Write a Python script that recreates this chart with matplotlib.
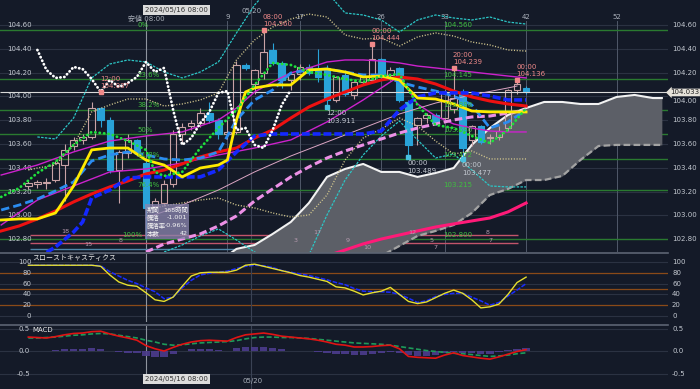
import matplotlib
matplotlib.use("Agg")
import matplotlib.pyplot as plt
from matplotlib.patches import Rectangle
from matplotlib.lines import Line2D

plt.rcParams['font.family'] = ['DejaVu Sans', 'Noto Sans CJK JP']

# ---------------- data ----------------
candle_idx = list(range(-13, 43))
opens = [103.25, 103.26, 103.27, 103.30, 103.42, 103.58, 103.63, 103.66, 103.90, 103.80, 103.38, 103.52, 103.63,
         103.44, 103.08, 103.10, 103.26, 103.68, 103.75, 103.78, 103.86, 103.80, 103.68, 103.70, 104.26, 104.10,
         104.20, 104.39, 104.28, 104.14, 104.19, 104.25, 104.24, 104.24, 103.97, 104.18, 104.01, 104.12, 104.14,
         104.31, 104.18, 104.24, 103.95, 103.76, 103.82, 103.84, 103.82, 103.89, 104.04, 103.63, 103.75, 103.65,
         103.66, 103.73, 104.05, 104.07]
highs = [103.29, 103.30, 103.31, 103.46, 103.60, 103.66, 103.68, 103.95, 103.91, 103.83, 103.55, 103.68, 103.64,
         103.47, 103.15, 103.30, 103.72, 103.78, 103.80, 103.90, 103.95, 103.82, 103.80, 104.30, 104.28, 104.23,
         104.56, 104.45, 104.30, 104.20, 104.27, 104.27, 104.40, 104.26, 104.17, 104.22, 104.13, 104.18, 104.444,
         104.32, 104.25, 104.25, 103.97, 103.83, 103.86, 103.86, 104.05, 104.239, 104.06, 103.76, 103.76, 103.68,
         103.75, 104.06, 104.136, 104.09]
lows = [103.22, 103.23, 103.22, 103.28, 103.12, 103.55, 103.60, 103.64, 103.74, 103.36, 103.10, 103.48, 103.50,
        102.80, 103.03, 103.08, 103.24, 103.62, 103.72, 103.74, 103.78, 103.64, 103.64, 103.68, 104.22, 104.02,
        104.15, 104.26, 104.07, 104.05, 104.14, 104.18, 104.12, 103.911, 103.95, 104.00, 103.98, 104.10, 104.12,
        104.14, 104.14, 103.95, 103.489, 103.59, 103.78, 103.76, 103.80, 103.86, 103.477, 103.58, 103.60, 103.60,
        103.63, 103.71, 104.02, 104.02]
closes = [103.27, 103.28, 103.28, 103.44, 103.55, 103.63, 103.66, 103.90, 103.80, 103.38, 103.53, 103.63, 103.52,
          103.06, 103.12, 103.26, 103.68, 103.74, 103.78, 103.86, 103.80, 103.68, 103.70, 104.26, 104.24, 104.22,
          104.37, 104.28, 104.14, 104.19, 104.25, 104.20, 104.16, 103.97, 104.16, 104.02, 104.12, 104.16, 104.31,
          104.16, 104.22, 103.97, 103.59, 103.82, 103.84, 103.78, 104.04, 103.99, 103.57, 103.75, 103.62, 103.66,
          103.71, 104.05, 104.10, 104.033]

price_ticks = [104.60, 104.40, 104.20, 104.00, 103.80, 103.60, 103.40, 103.20, 103.00, 102.80]
price_labels = ["104.60", "104.40", "104.20", "104.00", "103.80", "103.60", "103.40", "103.20", "103.00", "102.80"]
last_price = 104.033
last_label = "104.033"

fib_levels = [104.560, 104.145, 103.888, 103.680, 103.472, 103.215, 102.800]
fib_pct = ["0%", "23.6%", "38.2%", "50%", "61.8%", "76.4%", "100%"]
fib_price = ["104.560", "104.145", "103.888", "103.680", "103.472", "103.215", "102.800"]

count_marks = [9, 17, 26, 33, 42, 52]
count_labels = ["9", "17", "26", "33", "42", "52"]
cross_idx = 0
date_idx = 11.6

# Bollinger-style bands
bbu_idx = [-12, -10, -8, -6, -4, -2, 0, 2, 4, 6, 8, 10, 12, 14, 16, 18, 20, 22, 24, 26, 28, 30, 32, 34, 36, 38, 40, 42]
bbu = [103.659, 103.642, 103.818, 104.155, 104.272, 104.306, 104.289, 104.205, 104.155, 104.205, 104.289, 104.533,
       104.768, 104.936, 105.020, 105.020, 104.877, 104.701, 104.684, 104.642, 104.541, 104.642, 104.684, 104.659,
       104.642, 104.667, 104.625, 104.608]
bbl_idx = [2, 4, 6, 8, 10, 12, 14, 16, 18, 20, 22, 24, 26, 28, 30, 32, 34, 36, 38, 40, 42]
bbl = [102.692, 102.751, 102.827, 102.886, 102.793, 102.692, 102.625, 102.608, 102.667, 103.003, 103.297, 103.508,
       103.667, 103.793, 103.634, 103.482, 103.516, 103.381, 103.247, 103.239, 103.239]
bb1u_idx = [-13, -12, -10, -8, -6, -4, -2, 0, 2, 4, 6, 8, 10, 12, 14, 16, 18, 20, 22, 24, 26, 28, 30, 32, 34, 36, 38, 40, 42]
bb1u = [103.381, 103.398, 103.423, 103.592, 103.869, 103.928, 103.978, 103.978, 103.919, 103.936, 103.970, 104.029,
        104.306, 104.474, 104.583, 104.650, 104.692, 104.667, 104.516, 104.482, 104.491, 104.423, 104.499, 104.533,
        104.507, 104.457, 104.432, 104.390, 104.381]
bb1l_idx = [0, 2, 4, 6, 8, 10, 12, 14, 16, 18, 20, 22, 24, 26, 28, 30, 32, 34, 36, 38, 40, 42]
bb1l = [103.045, 103.079, 103.104, 103.129, 103.146, 103.087, 103.062, 103.020, 102.986, 103.003, 103.171, 103.465,
        103.650, 103.726, 103.818, 103.751, 103.625, 103.516, 103.541, 103.474, 103.474, 103.474]

# envelopes (magenta) and thin trend line
um_idx = [-16, -12, -8, -4, 0, 4, 8, 10, 12, 14, 16, 18, 20, 22, 24, 26, 28, 30, 32, 34, 36, 38, 40, 42]
um = [103.339, 103.423, 103.533, 103.625, 103.667, 103.701, 103.802, 103.902, 104.037, 104.121, 104.197, 104.239,
      104.289, 104.306, 104.306, 104.297, 104.281, 104.255, 104.239, 104.222, 104.205, 104.188, 104.171, 104.155]
lm_idx = [-16, -12, -8, -4, 0, 4, 8, 12, 16, 20, 24, 26, 28, 30, 32, 34, 36, 38, 40, 42]
lm = [102.919, 103.129, 103.247, 103.365, 103.390, 103.440, 103.508, 103.566, 103.634, 103.785, 103.970, 104.071,
      104.171, 103.936, 103.835, 103.768, 103.734, 103.709, 103.701, 103.701]
tp_idx = [0, 4, 8, 12, 16, 20, 24, 28, 32, 36, 40, 41]
tp = [102.978, 103.087, 103.213, 103.365, 103.499, 103.617, 103.734, 103.852, 103.944, 104.012, 104.071, 104.087]

# moving averages / ichimoku
red_idx = list(range(-16, 43, 2))
red_ma = [102.869, 102.911, 102.970, 103.037, 103.113, 103.180, 103.239, 103.289, 103.348, 103.381, 103.432, 103.491,
          103.533, 103.566, 103.650, 103.718, 103.818, 103.911, 103.978, 104.037, 104.096, 104.138, 104.163, 104.146,
          104.104, 104.045, 103.995, 103.961, 103.936, 103.919]
blue_idx = [-12, -10, -8, -7, -6, -4, -2, 0, 2, 4, 6, 8, 10, 12, 14, 16, 18, 20, 22, 24, 26, 28, 30, 32, 34, 36, 38, 40, 42]
blue_line = [102.642, 102.734, 102.860, 102.944, 103.146, 103.213, 103.314, 103.323, 103.323, 103.323, 103.323,
             103.381, 103.533, 103.667, 103.684, 103.684, 103.684, 103.684, 103.684, 103.684, 103.709, 103.886,
             103.995, 104.029, 104.029, 104.029, 104.003, 103.970, 103.970]
yellow_idx = [-16, -14, -12, -10, -8, -6, -4, -2, 0, 2, 4, 6, 8, 9, 10, 11, 12, 14, 16, 18, 20, 22, 24, 26, 28, 30,
              32, 34, 36, 38, 40, 42]
yellow_line = [102.961, 102.970, 102.970, 103.020, 103.247, 103.550, 103.566, 103.566, 103.465, 103.423, 103.323,
               103.398, 103.423, 103.465, 103.802, 104.037, 104.071, 104.096, 104.096, 104.222, 104.230, 104.205,
               104.163, 104.171, 104.138, 103.986, 103.978, 103.936, 103.877, 103.869, 103.869, 103.869]
lblue_idx = list(range(-16, 43, 2))
lblue_line = [103.045, 103.087, 103.138, 103.205, 103.281, 103.457, 103.508, 103.533, 103.508, 103.474, 103.465,
              103.482, 103.533, 103.802, 103.970, 104.054, 104.197, 104.222, 104.230, 104.205, 104.180, 104.180,
              104.121, 104.079, 104.045, 104.003, 103.928, 103.734, 103.785, 103.886]
green_idx = [-16, -14, -12, -10, -8, -6, -4, -2, 0, 1, 2, 4, 6, 8, 10, 12, 14, 16, 18, 20, 22, 24, 26, 28, 30, 32,
             34, 36, 38, 40, 42]
green_line = [103.155, 103.230, 103.356, 103.449, 103.592, 103.701, 103.684, 103.625, 103.550, 103.365, 103.331,
              103.365, 103.566, 103.734, 103.886, 104.096, 104.281, 104.264, 104.205, 104.180, 104.146, 104.121,
              104.171, 104.188, 103.928, 103.760, 103.734, 103.667, 103.608, 103.718, 103.902]
pinkd_idx = list(range(0, 43, 2))
pinkd_line = [102.692, 102.759, 102.801, 102.844, 102.911, 102.995, 103.121, 103.222, 103.323, 103.407, 103.482,
              103.541, 103.592, 103.642, 103.692, 103.734, 103.768, 103.802, 103.827, 103.835, 103.860, 103.886]
slong_idx = [21, 22, 24, 26, 28, 30, 32, 34, 36, 38, 40, 42]
slong_line = [102.684, 102.709, 102.760, 102.801, 102.835, 102.869, 102.902, 102.928, 102.953, 102.978, 103.029,
              103.104]
chikou_idx = list(range(-12, 17))
chikou = [104.390, 104.222, 104.155, 104.163, 104.247, 104.230, 104.146, 104.037, 104.138, 104.079, 104.113, 104.163,
          104.289, 104.205, 104.239, 103.886, 103.592, 103.650, 103.776, 103.869, 104.029, 104.045, 103.718, 103.734,
          103.592, 103.566, 103.718, 103.928, 104.054]
kumo_idx = list(range(8, 57, 2)) + [57]
senkou_a = [102.608, 102.718, 102.751, 102.844, 102.944, 103.104, 103.323, 103.390, 103.432, 103.365, 103.365,
            103.323, 103.356, 103.398, 103.592, 103.734, 103.844, 103.902, 103.953, 103.953, 103.936, 103.936,
            103.995, 104.012, 103.986, 103.986]
senkou_b = [102.45, 102.45, 102.45, 102.45, 102.45, 102.45, 102.45, 102.45, 102.45, 102.659, 102.743, 102.827,
            102.869, 102.919, 103.020, 103.171, 103.222, 103.297, 103.297, 103.331, 103.465, 103.583, 103.592,
            103.592, 103.592, 103.592]

# horizontal count lines near the bottom
hline_red = [102.835, 102.768]
hline_blue = [102.718]
hline_span = (-12.8, 41.1)
hline_blue_span = (-12.8, 20.3)
small_nums = [("18", -8.9, 102.862), ("15", -6.4, 102.751), ("8", -2.8, 102.790), ("3", 16.5, 102.790),
              ("17", 18.9, 102.855), ("9", 22.3, 102.790), ("10", 24.5, 102.734), ("12", 29.4, 102.855),
              ("5", 31.5, 102.790), ("7", 32.0, 102.734), ("8", 37.7, 102.855), ("7", 38.1, 102.790)]

# high / low annotations: (index, price, time label, value label, is_high)
hl_notes = [(13, 104.560, "08:00", "104.560", True), (25, 104.444, "00:00", "104.444", True),
            (34, 104.239, "20:00", "104.239", True), (41, 104.136, "00:00", "104.136", True),
            (-5, 104.037, "12:00", "104.037", True),
            (20, 103.911, "12:00", "103.911", False), (29, 103.489, "00:00", "103.489", False),
            (35, 103.477, "00:00", "103.477", False)]

# stochastics
osc_idx = list(range(-13, 43))
stoch_k = [94, 94, 94, 94, 94, 94, 94, 94, 92, 76, 63, 57, 55,
           43, 30, 27, 35, 55, 74, 80, 81, 81, 81, 85, 94, 96, 92, 88, 84, 80, 75, 72, 68, 64, 54, 52, 46, 39, 43,
           46, 53, 40, 27, 23, 26, 34, 42, 48, 42, 30, 15, 17, 22, 40, 62, 72]
stoch_d = [94, 94, 94, 94, 94, 94, 94, 94, 93, 82, 74, 66, 60,
           52, 45, 32, 35, 52, 66, 76, 79, 81, 83, 88, 92, 94, 93, 90, 84, 81, 78, 75, 71, 67, 62, 58, 51, 46, 45,
           45, 44, 40, 33, 25, 28, 36, 40, 42, 42, 35, 28, 20, 25, 37, 48, 60]
stoch_ticks = [100, 80, 60, 40, 20, 0]

# MACD
macd = [0.31, 0.30, 0.29, 0.32, 0.36, 0.39, 0.40, 0.43, 0.44, 0.38, 0.33, 0.29, 0.24,
        0.12, 0.05, 0.00, 0.08, 0.15, 0.20, 0.23, 0.24, 0.23, 0.22, 0.30, 0.36, 0.38, 0.40, 0.37, 0.33, 0.31, 0.29,
        0.27, 0.24, 0.20, 0.15, 0.13, 0.09, 0.09, 0.10, 0.12, 0.13, 0.05, -0.12, -0.14, -0.15, -0.16, -0.09, -0.04,
        -0.10, -0.13, -0.16, -0.18, -0.13, -0.07, -0.01, 0.03]
signal = [0.29, 0.29, 0.30, 0.31, 0.33, 0.35, 0.36, 0.38, 0.39, 0.38, 0.35, 0.32, 0.29,
          0.24, 0.20, 0.15, 0.13, 0.14, 0.16, 0.18, 0.19, 0.20, 0.21, 0.23, 0.27, 0.30, 0.31, 0.31, 0.30, 0.30,
          0.29, 0.28, 0.26, 0.24, 0.22, 0.20, 0.18, 0.17, 0.16, 0.15, 0.13, 0.10, 0.07, 0.04, 0.01, -0.01, -0.03,
          -0.05, -0.06, -0.08, -0.10, -0.12, -0.11, -0.09, -0.06, -0.04]
hist = [0.01, 0.01, 0.00, 0.02, 0.04, 0.04, 0.04, 0.06, 0.05, 0.00, -0.03, -0.04, -0.05,
        -0.12, -0.14, -0.13, -0.06, 0.00, 0.04, 0.05, 0.05, 0.03, 0.01, 0.07, 0.09, 0.08, 0.08, 0.06, 0.04, 0.01,
        0.00, -0.01, -0.02, -0.04, -0.06, -0.07, -0.08, -0.08, -0.06, -0.04, -0.02, -0.05, -0.08, -0.10, -0.10,
        -0.09, -0.05, -0.02, -0.04, -0.05, -0.06, -0.06, -0.02, 0.02, 0.05, 0.06]
macd_ticks = [0.5, 0.0, -0.5]
macd_labels = ["0.5", "0.0", "-0.5"]

# ---------------- styling ----------------
BG = "#141a28"
GRID = "#2b3242"
TXT = "#c3c8d0"
FIBC = "#2a7a30"
FIBT = "#3fbf3f"
UPC = "#c9a2a6"
DNC = "#29a3d9"

W, H = 700, 389
fig = plt.figure(figsize=(7.0, 3.89), dpi=100, facecolor=BG)


def box(x0, y0, x1, y1):
    return [x0 / W, 1 - y1 / H, (x1 - x0) / W, (y1 - y0) / H]


ax = fig.add_axes(box(0, 0, 668, 252))
axs = fig.add_axes(box(0, 254, 668, 322))
axm = fig.add_axes(box(0, 326, 668, 389))
for a in (ax, axs, axm):
    a.set_facecolor(BG)
    a.set_xlim(-16.13, 57.68)
    for s in a.spines.values():
        s.set_visible(False)
    a.set_xticks([])
    a.set_yticks([])
ax.set_ylim(102.692, 104.810)
axs.set_ylim(-11.1, 114.8)
axm.set_ylim(-0.844, 0.556)

for yy in (253, 325):
    fig.add_artist(Line2D([0, 668 / W], [1 - yy / H] * 2, transform=fig.transFigure, color="#5d6473", lw=1.2))

FS = 5
# ---- main panel ----
for p, lab in zip(price_ticks, price_labels):
    ax.axhline(p, color=GRID, lw=0.8, zorder=1)
    near_last = abs(p - last_price) < 0.05
    ax.text(1.006, p - (0.012 if near_last else 0), lab, transform=ax.get_yaxis_transform(), ha='left',
            va='top' if near_last else 'center', fontsize=FS, color=TXT, clip_on=False, zorder=2)
    ax.text(0.048, p, lab, transform=ax.get_yaxis_transform(), ha='right', va='center', fontsize=FS, color=TXT)

for lv, pc, pl in zip(fib_levels, fib_pct, fib_price):
    ax.axhline(lv, color=FIBC, lw=1.0, zorder=1.5)
    if pc == "100%":
        ax.text(-0.4, lv + 0.012, pc, ha='right', va='bottom', fontsize=FS, color=FIBT, zorder=8)
    else:
        ax.text(-0.9, lv + 0.012, pc, ha='left', va='bottom', fontsize=FS, color=FIBT, zorder=8)
    ax.text(32.8, lv + 0.012, pl, ha='left', va='bottom', fontsize=FS, color=FIBT, zorder=8)

for lv in hline_red:
    ax.hlines(lv, *hline_span, color="#c2546a", lw=1.0, zorder=1.6)
for lv in hline_blue:
    ax.hlines(lv, *hline_blue_span, color="#4f86a8", lw=1.0, zorder=1.6)
for s, xi, yv in small_nums:
    ax.text(xi, yv, s, ha='center', va='center', fontsize=4.6, color="#b79bb0", zorder=8)

# vertical markers
ytop_frac = 1 - 21 / 252
for m in count_marks:
    ax.axvline(m, ymax=ytop_frac, color="#50586a", lw=0.7, zorder=1.2)
for m, lab in zip(count_marks, count_labels):
    ax.text(m, 1 - 17 / 252, lab, transform=ax.get_xaxis_transform(), ha='center', va='center',
            fontsize=FS, color="#aab0ba")
for a in (ax, axs, axm):
    a.axvline(date_idx, color="#3a4254", lw=0.8, zorder=1.2)
ax.axvline(cross_idx, ymax=ytop_frac, color="#8e949e", lw=0.8, zorder=1.3)
axs.axvline(cross_idx, color="#8e949e", lw=0.8, zorder=1.3)
axm.axvline(cross_idx, ymin=0.22, color="#8e949e", lw=0.8, zorder=1.3)

ax.text(cross_idx - 0.1, 1 - 10 / 252, "2024/05/16 08:00", transform=ax.get_xaxis_transform(), ha='left',
        va='center', fontsize=FS, color="#303030",
        bbox=dict(boxstyle="square,pad=0.25", fc="#dcdcdc", ec="none"), zorder=9)
ax.text(cross_idx, 1 - 18 / 252, "安値 08:00", transform=ax.get_xaxis_transform(), ha='center', va='center',
        fontsize=FS, color="#aab0ba")
ax.text(date_idx + 0.1, 1 - 11 / 252, "05/20", transform=ax.get_xaxis_transform(), ha='center', va='center',
        fontsize=FS, color="#aab0ba")

# cloud
ax.fill_between(kumo_idx, senkou_a, senkou_b, color="#5c5f67", lw=0, zorder=2)
ax.plot(kumo_idx, senkou_b, color="#a3a3a3", lw=1.6, ls=(0, (3, 1.5)), zorder=2.5)
ax.plot(kumo_idx, senkou_a, color="#f2f2f2", lw=1.5, zorder=2.6)

# candles
for i, o, h, l, c in zip(candle_idx, opens, highs, lows, closes):
    up = c >= o
    col = UPC if up else DNC
    top, bot = max(o, c), min(o, c)
    ax.vlines(i, top, h, color=col, lw=0.8, zorder=3)
    ax.vlines(i, l, bot, color=col, lw=0.8, zorder=3)
    ax.add_patch(Rectangle((i - 0.36, bot), 0.72, max(top - bot, 0.004), fc="none" if up else DNC, ec=col,
                           lw=0.8, zorder=3.1))

# bands & lines
ax.plot(bbu_idx, bbu, color="#2cc6c6", lw=0.9, ls=(0, (2, 1)), zorder=4)
ax.plot(bbl_idx, bbl, color="#2cc6c6", lw=0.9, ls=(0, (2, 1)), zorder=4)
ax.plot(bb1u_idx, bb1u, color="#cfc48c", lw=1.0, ls=(0, (0.8, 1.2)), zorder=4)
ax.plot(bb1l_idx, bb1l, color="#cfc48c", lw=1.0, ls=(0, (0.8, 1.2)), zorder=4)
ax.plot(um_idx, um, color="#cc22cc", lw=1.0, zorder=4)
ax.plot(lm_idx, lm, color="#cc22cc", lw=1.0, zorder=4)
ax.plot(tp_idx, tp, color="#dca6c4", lw=0.7, zorder=4)
ax.hlines(last_price, -16.13, 57.68, color="#d9d9d9", lw=0.8, zorder=3.5)

ax.plot(slong_idx, slong_line, color="#ff1a78", lw=2.2, zorder=5)
ax.plot(pinkd_idx, pinkd_line, color="#ec90e6", lw=2.2, ls=(0, (2.5, 1.2)), zorder=5)
ax.plot(red_idx, red_ma, color="#ee1111", lw=2.2, zorder=5)
ax.plot(lblue_idx, lblue_line, color="#2b8cf0", lw=2.0, ls=(0, (3, 1.5)), zorder=5.1)
ax.plot(blue_idx, blue_line, color="#1428ff", lw=2.6, ls=(0, (2.2, 0.8)), zorder=5.2)
ax.plot(yellow_idx, yellow_line, color="#ffea00", lw=2.0, zorder=5.3)
ax.plot(green_idx, green_line, color="#1ee03c", lw=2.0, ls=(0, (0.1, 1.5)), dash_capstyle='round', zorder=5.4)
ax.plot(chikou_idx, chikou, color="#ffffff", lw=2.0, ls=(0, (0.1, 1.3)), dash_capstyle='round', zorder=6)

# high/low notes
for xi, pv, tlab, vlab, hi in hl_notes:
    col = "#f08a8a" if hi else "#c3c8d0"
    mcol = "#f08a8a" if hi else "#48c0e0"
    ax.plot([xi], [pv], marker='s', ms=2.6, color=mcol, zorder=7)
    if hi:
        y1, y2 = pv + 0.107, pv + 0.048
    else:
        y1, y2 = pv - 0.05, pv - 0.117
    ax.text(xi - 0.1, y1, tlab, ha='left', va='center', fontsize=FS, color=col, zorder=8)
    ax.text(xi - 0.1, y2, vlab, ha='left', va='center', fontsize=FS, color=col, zorder=8)

# info box
ax.add_patch(Rectangle((-0.15, 102.80), 4.9, 0.295, fc="#8a84ad", ec="none", alpha=0.78, zorder=8))
info_rows = [("期間", "168時間", 103.045), ("騰落", "-1.001", 102.978), ("騰落率", "-0.96%", 102.911),
             ("本数", "42", 102.845)]
for k, v, yv in info_rows:
    ax.text(0.1, yv, k, ha='left', va='center', fontsize=4.6, color="#f4f4f4", zorder=9)
    ax.text(4.6, yv, v, ha='right', va='center', fontsize=4.6, color="#f4f4f4", zorder=9)

ax.text(1.003, last_price, last_label, transform=ax.get_yaxis_transform(), ha='left', va='center',
        fontsize=FS, color="#222222", clip_on=False, zorder=10,
        bbox=dict(boxstyle="larrow,pad=0.12", fc="#e6e2da", ec="none"))

# ---- stochastics ----
for v in stoch_ticks:
    axs.axhline(v, color=GRID, lw=0.8, zorder=1)
    axs.text(1.006, v, str(v), transform=axs.get_yaxis_transform(), ha='left', va='center', fontsize=FS,
             color=TXT, clip_on=False)
    axs.text(0.047, v, str(v), transform=axs.get_yaxis_transform(), ha='right', va='center', fontsize=FS,
             color=TXT)
for v in (80, 50, 20):
    axs.axhline(v, color="#8a4a18", lw=0.9, zorder=1.1)
axs.plot(osc_idx, stoch_d, color="#1a2cff", lw=1.1, ls=(0, (3, 1)), zorder=3)
axs.plot(osc_idx, stoch_k, color="#e6df2e", lw=1.0, zorder=4)
axs.text(0.049, 1 - 4 / 68, "スローストキャスティクス", transform=axs.transAxes, ha='left', va='center',
         fontsize=FS, color="#e8e8e8")

# ---- MACD ----
for v, lab in zip(macd_ticks, macd_labels):
    axm.axhline(v, color=GRID, lw=0.8, zorder=1)
    axm.text(1.006, v, lab, transform=axm.get_yaxis_transform(), ha='left', va='center', fontsize=FS,
             color=TXT, clip_on=False)
    axm.text(0.045, v, lab, transform=axm.get_yaxis_transform(), ha='right', va='center', fontsize=FS,
             color=TXT)
axm.bar(osc_idx, hist, width=0.8, color="#4c3c8e", alpha=0.9, zorder=2)
axm.plot(osc_idx, signal, color="#1e9a5a", lw=1.2, ls=(0, (3, 1.5)), zorder=3)
axm.plot(osc_idx, macd, color="#e01414", lw=1.2, zorder=4)
axm.text(0.049, 1 - 4 / 63, "MACD", transform=axm.transAxes, ha='left', va='center', fontsize=FS,
         color="#e8e8e8")
axm.text(cross_idx - 0.1, 1 - 53 / 63, "2024/05/16 08:00", transform=axm.get_xaxis_transform(), ha='left',
         va='center', fontsize=FS, color="#303030",
         bbox=dict(boxstyle="square,pad=0.25", fc="#dcdcdc", ec="none"), zorder=9)
axm.text(date_idx + 0.2, 1 - 55 / 63, "05/20", transform=axm.get_xaxis_transform(), ha='center', va='center',
         fontsize=FS, color="#aab0ba")

fig.savefig("out.png", dpi=100, facecolor=BG)
